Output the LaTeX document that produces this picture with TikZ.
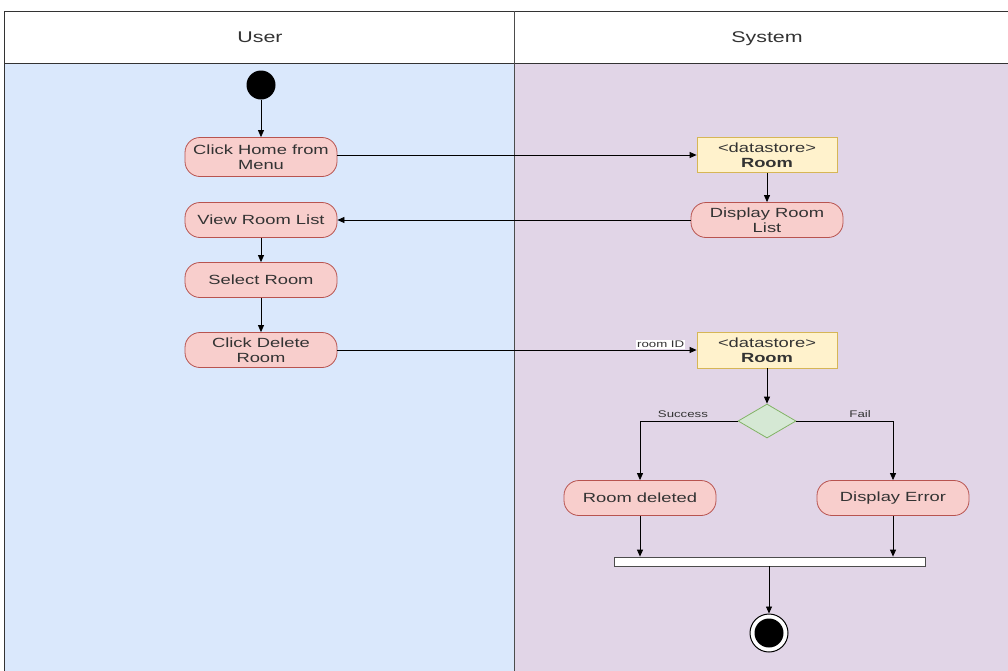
\documentclass[tikz,border=0pt]{standalone}
\usepackage{fontspec}
\setmainfont{Liberation Sans}[FakeStretch=1.38]
\usetikzlibrary{shapes.geometric,arrows.meta}
\definecolor{laneA}{HTML}{DAE8FC}
\definecolor{laneB}{HTML}{E1D5E7}
\definecolor{actfill}{HTML}{F8CECC}
\definecolor{actdraw}{HTML}{B85450}
\definecolor{dsfill}{HTML}{FFF2CC}
\definecolor{dsdraw}{HTML}{D6B656}
\definecolor{dfill}{HTML}{D5E8D4}
\definecolor{ddraw}{HTML}{82B366}
\definecolor{txt}{HTML}{333333}
\tikzset{
  act/.style={draw=actdraw, fill=actfill, rounded corners=15pt, minimum width=152pt, minimum height=35pt, align=center, inner sep=1pt, font=\fontsize{13.3}{15.3}\selectfont, text=txt, line width=0.8pt},
  dstore/.style={draw=dsdraw, fill=dsfill, minimum width=140pt, minimum height=35pt, align=center, inner sep=1pt, font=\fontsize{13.3}{15.3}\selectfont, text=txt, line width=0.8pt},
  conn/.style={draw=black, line width=0.8pt, -{Triangle[length=7pt,width=6pt]}},
  lbl/.style={font=\fontsize{9.6}{11}\selectfont, text=txt, inner sep=1pt},
  hdr/.style={font=\fontsize{15.5}{18}\selectfont, text=txt, anchor=base}
}
\begin{document}
\begin{tikzpicture}[x=1pt,y=-1pt]
\useasboundingbox (0,0) rectangle (1008,670);
% lanes
\begin{scope}
\clip (0,0) rectangle (1008,670);
\fill[laneA] (4,63) rectangle (514,672);
\fill[laneB] (514,63) rectangle (1012,672);
\fill[white] (4,11) rectangle (1012,63);
\draw[line width=0.8pt, black!80] (1012,11) -- (4,11) -- (4,672);
\draw[line width=0.8pt, black!80] (4,63) -- (1012,63);
\draw[line width=0.8pt, black!70] (514,11) -- (514,672);
\end{scope}
\node[hdr] (hu) at (260,42.5) {User};
\node[hdr] (hs) at (767,42.5) {System};
% nodes
\node[circle, fill=black, minimum size=29pt, inner sep=0] (start) at (261,85) {};
\node[act, minimum height=39pt] (home) at (261,157) {Click Home from\\Menu};
\node[act] (view) at (261,220) {View Room List};
\node[act] (select) at (261,280) {Select Room};
\node[act] (del) at (261,350) {Click Delete\\Room};
\node[dstore] (ds1) at (767,155) {<datastore>\\\textbf{Room}};
\node[act] (disp) at (767,220) {Display Room\\List};
\node[dstore, minimum height=36pt] (ds2) at (767,350) {<datastore>\\\textbf{Room}};
\node[diamond, draw=ddraw, fill=dfill, line width=0.8pt, minimum width=58pt, minimum height=34pt, aspect=1.7, inner sep=0] (dia) at (767,421) {};
\node[act] (rdel) at (640,498) {Room deleted};
\node[act] (err) at (893,498) {Display Error};
\node[draw=black!70, fill=white, line width=0.8pt, minimum width=311pt, minimum height=9pt, inner sep=0] (bar) at (769.5,561.5) {};
\node[circle, draw=black, fill=white, line width=1pt, minimum size=38pt, inner sep=0] (final) at (769,633) {};
\fill[black] (final.center) circle (14.5pt);
% connectors
\draw[conn] (start) -- (home);
\draw[conn] (home.east |- ds1.west) -- (ds1.west);
\draw[conn] (ds1) -- (disp);
\draw[conn] (disp.west) -- (disp.west -| view.east);
\draw[conn] (view) -- (select);
\draw[conn] (select) -- (del);
\draw[conn] (del.east) -- node[lbl, fill=white, pos=0.9, above=1pt] {room ID} (ds2.west);
\draw[conn] (ds2) -- (dia);
\draw[conn] (dia.west) -| node[lbl, pos=0.28, above=2pt] {Success} (rdel.north);
\draw[conn] (dia.east) -| node[lbl, pos=0.33, above=2pt] {Fail} (err.north);
\draw[conn] (rdel.south) -- (rdel.south |- bar.north);
\draw[conn] (err.south) -- (err.south |- bar.north);
\draw[conn] (bar.south -| final) -- (final.north);
\end{tikzpicture}
\end{document}
